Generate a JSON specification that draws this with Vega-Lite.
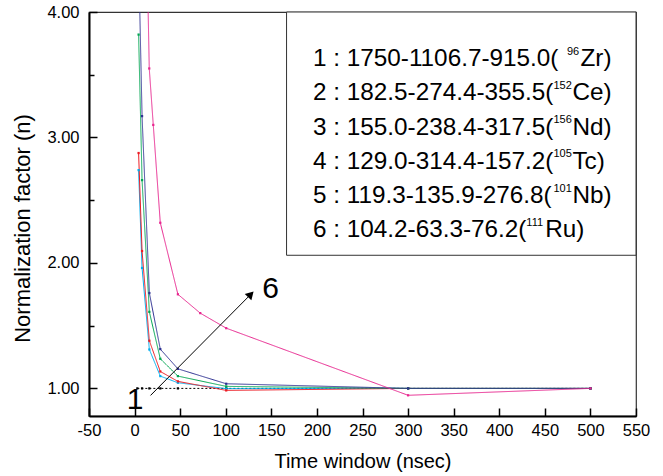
{
  "$schema": "https://vega.github.io/schema/vega-lite/v6.json",
  "width": 547,
  "height": 404,
  "autosize": "none",
  "padding": {"left": 89, "top": 12, "right": 27, "bottom": 60},
  "background": "white",
  "config": {
    "view": {"stroke": "#333333", "strokeWidth": 1.2},
    "font": "Liberation Sans",
    "axis": {
      "grid": false,
      "domainColor": "black",
      "domainWidth": 2,
      "tickColor": "black",
      "tickWidth": 1.5,
      "labelColor": "black",
      "labelFontSize": 16.5,
      "labelFont": "Liberation Sans",
      "titleFont": "Liberation Sans",
      "titleColor": "black",
      "titleFontWeight": "normal",
      "labelOverlap": false,
      "labelFlush": false
    }
  },
  "datasets": {
    "curves": [
      {"s": "1", "t": 3, "n": 1.0}, {"s": "1", "t": 8.2, "n": 1.0}, {"s": "1", "t": 16.2, "n": 1.0}, {"s": "1", "t": 28.2, "n": 1.0}, {"s": "1", "t": 47.5, "n": 1.0}, {"s": "1", "t": 100.5, "n": 1.0}, {"s": "1", "t": 300, "n": 1.0}, {"s": "1", "t": 500, "n": 1.0},
      {"s": "2", "t": 4.4, "n": 2.74}, {"s": "2", "t": 8.2, "n": 1.96}, {"s": "2", "t": 16.2, "n": 1.31}, {"s": "2", "t": 28.2, "n": 1.098}, {"s": "2", "t": 47.5, "n": 1.045}, {"s": "2", "t": 100.5, "n": 0.998}, {"s": "2", "t": 300, "n": 1.0}, {"s": "2", "t": 500, "n": 1.0},
      {"s": "3", "t": 4.4, "n": 2.876}, {"s": "3", "t": 8.2, "n": 2.095}, {"s": "3", "t": 16.2, "n": 1.38}, {"s": "3", "t": 28.2, "n": 1.135}, {"s": "3", "t": 47.5, "n": 1.056}, {"s": "3", "t": 100.5, "n": 0.984}, {"s": "3", "t": 300, "n": 1.0}, {"s": "3", "t": 500, "n": 1.0},
      {"s": "4", "t": 4.4, "n": 3.82}, {"s": "4", "t": 8.2, "n": 2.66}, {"s": "4", "t": 16.2, "n": 1.61}, {"s": "4", "t": 28.2, "n": 1.236}, {"s": "4", "t": 47.5, "n": 1.098}, {"s": "4", "t": 100.5, "n": 1.016}, {"s": "4", "t": 300, "n": 1.0}, {"s": "4", "t": 500, "n": 1.0},
      {"s": "5", "t": 4.4, "n": 4.45}, {"s": "5", "t": 8.2, "n": 3.17}, {"s": "5", "t": 16.2, "n": 1.76}, {"s": "5", "t": 28.2, "n": 1.313}, {"s": "5", "t": 47.5, "n": 1.156}, {"s": "5", "t": 100.5, "n": 1.037}, {"s": "5", "t": 300, "n": 1.0}, {"s": "5", "t": 500, "n": 1.0},
      {"s": "6", "t": 4.4, "n": 9.0}, {"s": "6", "t": 8.2, "n": 6.5}, {"s": "6", "t": 16.1, "n": 3.55}, {"s": "6", "t": 20.5, "n": 3.1}, {"s": "6", "t": 28.2, "n": 2.32}, {"s": "6", "t": 47.5, "n": 1.75}, {"s": "6", "t": 72, "n": 1.6}, {"s": "6", "t": 100.5, "n": 1.48}, {"s": "6", "t": 300, "n": 0.945}, {"s": "6", "t": 500, "n": 1.0}
    ],
    "box": [{"x0": 166.7, "x1": 550, "y0": 2.061, "y1": 4.0}],
    "legendText": [
      {"pre": "1 : 1750-1106.7-915.0( ", "sup": "96", "el": "Zr)", "lx": 195.7, "sx": 474.3, "ex": 489.1, "ly": 3.624},
      {"pre": "2 : 182.5-274.4-355.5(", "sup": "152", "el": "Ce)", "lx": 195.7, "sx": 459.4, "ex": 480.3, "ly": 3.352},
      {"pre": "3 : 155.0-238.4-317.5(", "sup": "156", "el": "Nd)", "lx": 195.7, "sx": 459.4, "ex": 480.3, "ly": 3.079},
      {"pre": "4 : 129.0-314.4-157.2(", "sup": "105", "el": "Tc)", "lx": 195.7, "sx": 459.4, "ex": 480.3, "ly": 2.807},
      {"pre": "5 : 119.3-135.9-276.8(", "sup": "101", "el": "Nb)", "lx": 195.7, "sx": 459.4, "ex": 480.3, "ly": 2.531},
      {"pre": "6 : 104.2-63.3-76.2(", "sup": "111", "el": "Ru)", "lx": 195.7, "sx": 429.7, "ex": 450.4, "ly": 2.262}
    ],
    "arrow": [{"ax": 17.5, "ay": 0.944, "o": 0}, {"ax": 127.5, "ay": 1.75, "o": 1}],
    "arrowHead": [{"ax": 127.5, "ay": 1.75}],
    "notes": [{"txt": "1", "nx": 0.5, "ny": 0.91}, {"txt": "6", "nx": 149.2, "ny": 1.794}]
  },
  "layer": [
    {
      "data": {"name": "curves"},
      "mark": {"type": "line", "strokeWidth": 1, "clip": true},
      "encoding": {
        "x": {
          "field": "t", "type": "quantitative",
          "scale": {"domain": [-50, 550], "nice": false, "zero": false},
          "axis": {
            "title": "Time window (nsec)",
            "titleFontSize": 20,
            "values": [-50, -25, 0, 25, 50, 75, 100, 125, 150, 175, 200, 225, 250, 275, 300, 325, 350, 375, 400, 425, 450, 475, 500, 525, 550],
            "labelExpr": "datum.value % 50 === 0 ? '' + datum.value : ''",
            "tickSize": {"condition": {"test": "datum.value % 50 === 0", "value": -8}, "value": -4},
            "labelPadding": 14,
            "titlePadding": 13
          }
        },
        "y": {
          "field": "n", "type": "quantitative",
          "scale": {"domain": [0.78, 4.0], "nice": false, "zero": false},
          "axis": {
            "title": "Normalization factor (n)",
            "titleFontSize": 22,
            "titleY": 216,
            "values": [1, 1.5, 2, 2.5, 3, 3.5, 4],
            "labelExpr": "datum.value % 1 === 0 ? format(datum.value, '.2f') : ''",
            "tickSize": {"condition": {"test": "datum.value % 1 === 0", "value": -8}, "value": -5},
            "labelPadding": 18,
            "titlePadding": 12
          }
        },
        "color": {
          "field": "s", "type": "nominal",
          "scale": {"domain": ["1", "2", "3", "4", "5", "6"], "range": ["#000000", "#00AEEF", "#ED1C24", "#00A651", "#2E3192", "#E8268F"]},
          "legend": null
        },
        "strokeDash": {
          "field": "s", "type": "nominal",
          "scale": {"domain": ["1", "2", "3", "4", "5", "6"], "range": [[2, 2], [1, 0], [1, 0], [1, 0], [1, 0], [1, 0]]},
          "legend": null
        },
        "order": {"field": "t", "type": "quantitative"}
      }
    },
    {
      "data": {"name": "curves"},
      "mark": {"type": "point", "shape": "square", "filled": true, "size": 5, "clip": true, "opacity": 1},
      "encoding": {
        "x": {"field": "t", "type": "quantitative"},
        "y": {"field": "n", "type": "quantitative"},
        "color": {"field": "s", "type": "nominal", "legend": null}
      }
    },
    {
      "data": {"name": "box"},
      "mark": {"type": "rect", "fill": "white", "stroke": "#333333", "strokeWidth": 1},
      "encoding": {
        "x": {"field": "x0", "type": "quantitative"},
        "x2": {"field": "x1"},
        "y": {"field": "y0", "type": "quantitative"},
        "y2": {"field": "y1"}
      }
    },
    {
      "data": {"name": "legendText"},
      "mark": {"type": "text", "align": "left", "baseline": "middle", "fontSize": 24.3, "font": "Liberation Sans", "color": "black"},
      "encoding": {
        "x": {"field": "lx", "type": "quantitative"},
        "y": {"field": "ly", "type": "quantitative"},
        "text": {"field": "pre"}
      }
    },
    {
      "data": {"name": "legendText"},
      "mark": {"type": "text", "align": "left", "baseline": "middle", "fontSize": 11, "dy": -7.5, "font": "Liberation Sans", "color": "black"},
      "encoding": {
        "x": {"field": "sx", "type": "quantitative"},
        "y": {"field": "ly", "type": "quantitative"},
        "text": {"field": "sup"}
      }
    },
    {
      "data": {"name": "legendText"},
      "mark": {"type": "text", "align": "left", "baseline": "middle", "fontSize": 24.3, "font": "Liberation Sans", "color": "black"},
      "encoding": {
        "x": {"field": "ex", "type": "quantitative"},
        "y": {"field": "ly", "type": "quantitative"},
        "text": {"field": "el"}
      }
    },
    {
      "data": {"name": "arrow"},
      "mark": {"type": "line", "color": "black", "strokeWidth": 1},
      "encoding": {
        "x": {"field": "ax", "type": "quantitative"},
        "y": {"field": "ay", "type": "quantitative"},
        "order": {"field": "o", "type": "quantitative"}
      }
    },
    {
      "data": {"name": "arrowHead"},
      "mark": {"type": "point", "shape": "triangle-up", "filled": true, "color": "black", "size": 85, "angle": 44, "opacity": 1},
      "encoding": {
        "x": {"field": "ax", "type": "quantitative"},
        "y": {"field": "ay", "type": "quantitative"}
      }
    },
    {
      "data": {"name": "notes"},
      "mark": {"type": "text", "align": "center", "baseline": "middle", "fontSize": 30, "font": "Liberation Sans", "color": "black"},
      "encoding": {
        "x": {"field": "nx", "type": "quantitative"},
        "y": {"field": "ny", "type": "quantitative"},
        "text": {"field": "txt"}
      }
    }
  ]
}
